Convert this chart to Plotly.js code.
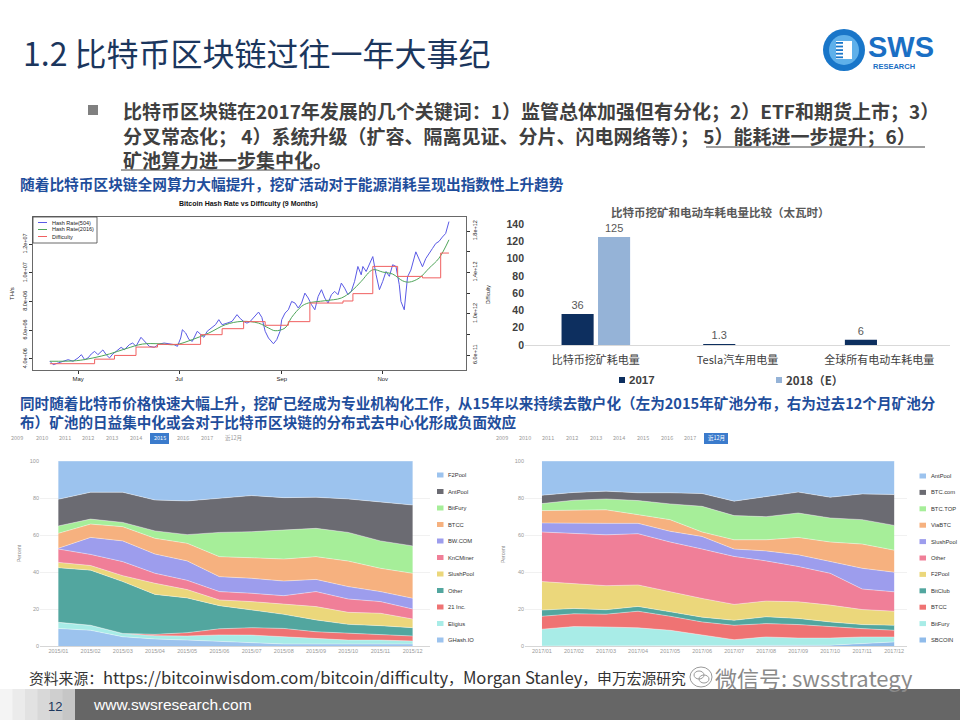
<!DOCTYPE html>
<html><head><meta charset="utf-8">
<script src="https://cdn.plot.ly/plotly-3.0.1.min.js"></script>
<style>html,body{margin:0;padding:0;background:#fff}#chart{width:960px;height:720px}</style>
</head><body><div id="chart"></div>
<script>
// ---------- Hash rate vs difficulty (TH/s, difficulty) ----------
const hashDates504 = ['2017-04-14','2017-04-16','2017-04-19','2017-04-22','2017-04-25','2017-04-28','2017-05-01','2017-05-03','2017-05-05','2017-05-07','2017-05-09','2017-05-11','2017-05-13','2017-05-16','2017-05-18','2017-05-20','2017-05-22','2017-05-24','2017-05-27','2017-05-29','2017-06-01','2017-06-03','2017-06-05','2017-06-08','2017-06-10','2017-06-13','2017-06-16','2017-06-19','2017-06-22','2017-06-25','2017-06-28','2017-06-30','2017-07-02','2017-07-03','2017-07-05','2017-07-07','2017-07-09','2017-07-12','2017-07-14','2017-07-16','2017-07-18','2017-07-21','2017-07-23','2017-07-25','2017-07-27','2017-07-30','2017-08-02','2017-08-05','2017-08-07','2017-08-09','2017-08-11','2017-08-13','2017-08-16','2017-08-18','2017-08-20','2017-08-22','2017-08-24','2017-08-27','2017-08-29','2017-08-31','2017-09-01','2017-09-03','2017-09-05','2017-09-07','2017-09-09','2017-09-11','2017-09-13','2017-09-15','2017-09-17','2017-09-19','2017-09-21','2017-09-23','2017-09-25','2017-09-27','2017-09-29','2017-10-01','2017-10-03','2017-10-05','2017-10-07','2017-10-09','2017-10-11','2017-10-13','2017-10-15','2017-10-17','2017-10-19','2017-10-20','2017-10-22','2017-10-24','2017-10-26','2017-10-28','2017-10-30','2017-11-01','2017-11-03','2017-11-05','2017-11-07','2017-11-09','2017-11-11','2017-11-12','2017-11-14','2017-11-16','2017-11-18','2017-11-21','2017-11-23','2017-11-25','2017-11-27','2017-11-29','2017-12-01','2017-12-03','2017-12-05','2017-12-07','2017-12-09','2017-12-11'];
const hashRate504 = [3.84e6,3.60e6,3.72e6,3.84e6,3.95e6,3.84e6,4.07e6,4.30e6,3.95e6,4.07e6,4.35e6,4.53e6,4.30e6,4.63e6,4.30e6,4.07e6,4.35e6,4.53e6,4.81e6,4.65e6,5.00e6,5.11e6,4.88e6,5.51e6,5.23e6,4.88e6,4.81e6,5.04e6,5.11e6,5.04e6,5.00e6,4.88e6,5.46e6,6.04e6,5.81e6,5.35e6,5.23e6,5.93e6,5.70e6,5.51e6,5.93e6,6.20e6,6.39e6,6.74e6,6.39e6,6.50e6,6.62e6,7.09e6,6.81e6,6.62e6,6.50e6,6.62e6,6.97e6,7.27e6,6.90e6,5.93e6,5.46e6,5.06e6,5.35e6,5.93e6,6.74e6,7.20e6,7.43e6,8.01e6,7.90e6,7.55e6,7.90e6,8.59e6,8.25e6,7.78e6,7.43e6,8.36e6,8.83e6,8.25e6,7.90e6,8.48e6,8.71e6,8.48e6,9.29e6,8.94e6,8.48e6,8.71e6,9.41e6,10.45e6,9.87e6,10.45e6,10.10e6,10.57e6,11.14e6,9.87e6,8.83e6,9.41e6,10.10e6,9.76e6,10.57e6,10.45e6,9.18e6,8.01e6,7.43e6,9.73e6,10.20e6,11.47e6,11.00e6,10.43e6,11.00e6,11.40e6,11.70e6,12.05e6,12.20e6,12.50e6,12.75e6,13.58e6];
const hashDates2016 = ['2017-04-14','2017-04-30','2017-05-10','2017-05-20','2017-05-30','2017-06-09','2017-06-19','2017-06-29','2017-07-09','2017-07-19','2017-07-29','2017-08-08','2017-08-18','2017-08-24','2017-08-28','2017-09-03','2017-09-07','2017-09-13','2017-09-17','2017-09-27','2017-10-07','2017-10-13','2017-10-19','2017-10-26','2017-11-01','2017-11-07','2017-11-13','2017-11-17','2017-11-23','2017-11-29','2017-12-05','2017-12-11'];
const hashRate2016 = [3.84e6,3.88e6,4.07e6,4.35e6,4.72e6,5.04e6,5.06e6,5.00e6,5.35e6,5.81e6,6.39e6,6.62e6,6.50e6,6.16e6,5.97e6,6.16e6,6.90e6,7.67e6,7.90e6,8.06e6,8.25e6,8.71e6,9.41e6,10.22e6,10.06e6,9.92e6,9.45e6,9.36e6,9.64e6,10.33e6,11.03e6,12.31e6];
const diffDates = ['2017-04-14','2017-05-11','2017-05-23','2017-06-05','2017-06-18','2017-07-14','2017-07-27','2017-08-09','2017-08-22','2017-09-05','2017-09-18','2017-10-08','2017-10-14','2017-10-26','2017-11-10','2017-11-25','2017-12-06','2017-12-11'];
const difficulty = [0.516e12,0.560e12,0.596e12,0.677e12,0.703e12,0.797e12,0.855e12,0.923e12,0.888e12,0.923e12,1.103e12,1.123e12,1.194e12,1.458e12,1.361e12,1.347e12,1.587e12,1.587e12];
const hashTickVals = [4e6,6e6,8e6,1e7,1.2e7];
const hashTickText = ['4.0e+06','6.0e+06','8.0e+06','1.0e+07','1.2e+07'];
const diffTickVals = [6e11,8e11,1e12,1.2e12,1.4e12,1.6e12,1.8e12];
const diffTickText = ['6.0e+11','','1.0e+12','','1.4e+12','','1.8e+12'];
const monthTickVals = ['2017-05-01','2017-07-01','2017-09-01','2017-11-01'];
const monthTickText = ['May','Jul','Sep','Nov'];

// ---------- Energy bar chart (TWh) ----------
const barCategories = ['比特币挖矿耗电量','Tesla汽车用电量','全球所有电动车耗电量'];
const energy2017 = [36, 1.3, 6];
const energy2018E = [125, null, null];

// ---------- Mining pool share 2015 (%) ----------
const months2015 = ['2015/01','2015/02','2015/03','2015/04','2015/05','2015/06','2015/07','2015/08','2015/09','2015/10','2015/11','2015/12'];
const ghash2015   = [9.5,8.5,5.0,3.8,3.2,2.5,1.4,1.1,1.1,1.1,1.1,1.1];
const eligius2015 = [3.3,2.7,1.8,1.8,2.2,3.5,4.5,3.9,3.0,2.1,2.1,1.6];
const inc21_2015  = [0,0,0,0.7,1.8,3.3,4.0,4.5,3.6,3.6,3.1,2.7];
const other2015   = [29.5,29.8,28.0,21.6,18.8,12.5,9.6,7.6,6.4,4.9,4.7,4.5];
const slush2015   = [2.9,2.5,3.2,6.0,4.5,3.1,4.5,5.4,7.2,6.5,6.7,4.7];
const kncminer2015= [7.2,6.0,7.6,5.4,5.0,4.5,4.5,4.7,8.1,7.2,6.3,5.4];
const bwcom2015   = [0.4,9.2,11.2,10.4,10.5,8.1,8.1,7.9,6.6,6.7,5.4,5.8];
const btcc2015    = [8.1,7.2,7.7,8.5,9.5,10.8,11.1,11.9,12.3,13.8,12.6,13.5];
const bitfury2015 = [4.0,2.7,2.3,4.0,4.7,13.1,14.1,15.5,15.3,15.5,14.8,14.8];
const antpool2015 = [14.4,14.5,16.3,16.7,18.2,18.4,19.5,17.7,16.8,18.1,21.2,22.1];
const f2pool2015  = [20.7,16.9,16.9,21.1,21.6,20.2,18.7,19.8,19.6,20.5,22.0,23.8];
const pools2015 = ['GHash.IO','Eligius','21 Inc.','Other','SlushPool','KnCMiner','BW.COM','BTCC','BitFury','AntPool','F2Pool'];

// ---------- Mining pool share last 12 months (%) ----------
const months2017 = ['2017/01','2017/02','2017/03','2017/04','2017/05','2017/06','2017/07','2017/08','2017/09','2017/10','2017/11','2017/12'];
const sbcoin17  = [0,0,0,0,0,0,0,0,0,0.4,1.3,2.2];
const bitfury17 = [9.1,10.5,10.3,9.8,8.5,5.8,3.4,4.9,4.3,3.9,3.6,2.7];
const btcc17    = [7.0,6.9,6.9,9.0,7.6,7.2,7.8,7.2,7.3,6.0,4.5,3.6];
const bitclub17 = [3.3,2.9,2.4,2.6,2.4,2.6,2.7,3.7,3.3,2.7,2.2,2.7];
const f2pool17  = [15.4,13.6,13.0,11.6,10.8,10.1,8.6,8.5,9.0,9.1,8.1,7.6];
const other17   = [26.8,27.1,27.5,27.7,26.9,26.7,25.9,21.7,19.1,17.2,11.1,10.5];
const slush17   = [4.9,5.3,6.2,5.6,5.8,6.8,4.0,5.4,6.3,6.4,11.2,10.6];
const viabtc17  = [6.7,6.9,7.3,4.7,6.3,2.4,5.0,6.0,9.4,10.5,13.1,11.9];
const btctop17  = [3.8,5.6,5.9,7.6,8.5,13.9,13.1,12.5,13.2,13.0,13.2,13.4];
const btccom17  = [4.5,4.2,4.2,4.2,6.0,6.9,7.8,10.7,11.3,11.2,13.9,16.7];
const antpool17 = [18.5,17.0,16.3,17.2,17.2,17.6,21.7,19.4,16.8,19.6,17.8,18.1];
const pools2017 = ['SBCOIN','BitFury','BTCC','BitClub','F2Pool','Other','SlushPool','ViaBTC','BTC.TOP','BTC.com','AntPool'];
const yearTabs = ['2009','2010','2011','2012','2013','2014','2015','2016','2017','近12月'];

// ---------- styling ----------
const CJK = '"Noto Sans CJK SC","Noto Sans",sans-serif';
const LAT = '"Liberation Sans",Arial,sans-serif';
const C = {lb:'#9cc3ee', dg:'#6b6b72', gr:'#a6ee99', or:'#f6b17f', pu:'#9d9ded', pk:'#f07f98', ye:'#ebd77b', te:'#52a69f', re:'#ef7373', cy:'#a8ece7', bl:'#8fbbea'};
const colors2015 = [C.lb, C.cy, C.re, C.te, C.ye, C.pk, C.pu, C.or, C.gr, C.dg, C.lb];
const colors2017 = [C.bl, C.cy, C.re, C.te, C.ye, C.pk, C.pu, C.or, C.gr, C.dg, C.lb];

const X = v => v/960, Y = v => 1 - v/720;
const ann = [], shp = [];
function txt(x, y, t, o) {
  o = o || {};
  ann.push({xref:'paper', yref:'paper', x:X(x), y:Y(y), text:t, showarrow:false,
    xanchor:o.xa||'left', yanchor:o.ya||'middle', textangle:o.angle||0, align:'left',
    font:{family:o.family||CJK, size:o.size||12, color:o.color||'#333'}});
}
function rect(x0,y0,x1,y1,fill,lc,lw){ shp.push({type:'rect',xref:'paper',yref:'paper',x0:X(x0),x1:X(x1),y0:Y(y1),y1:Y(y0),fillcolor:fill,line:{color:lc||fill,width:lw||0},layer:'above'}); }
function seg(x0,y0,x1,y1,col,w){ shp.push({type:'line',xref:'paper',yref:'paper',x0:X(x0),x1:X(x1),y0:Y(y0),y1:Y(y1),line:{color:col,width:w||1},layer:'above'}); }
function circ(x0,y0,x1,y1,fill,lc,lw){ shp.push({type:'circle',xref:'paper',yref:'paper',x0:X(x0),x1:X(x1),y0:Y(y1),y1:Y(y0),fillcolor:fill,line:{color:lc||fill,width:lw||0},layer:'above'}); }

// ---------- header ----------
txt(21, 52, '1.2 比特币区块链过往一年大事纪', {size:32, color:'#1b365d'});
// logo
circ(823,29,865,71,'#1976c9');
circ(829,35,859,65,'#5fb0ea');
rect(836,41,852,59,'#ffffff');
for (let i=0;i<5;i++) rect(836,42+i*3.6,843,43.8+i*3.6,'#1976c9');
txt(866, 47, '<b>SWS</b>', {size:29, color:'#1a6fc4', family:LAT});
txt(871, 66, '<b>RESEARCH</b>', {size:7.5, color:'#1a6fc4', family:LAT});

rect(88,105,98,115,'#808080');
txt(121, 135, '<b>比特币区块链在2017年发展的几个关键词：1）监管总体加强但有分化；2）ETF和期货上市；3）<br>分叉常态化； 4）系统升级（扩容、隔离见证、分片、闪电网络等）； 5）能耗进一步提升；6）<br>矿池算力进一步集中化。</b>', {size:19, color:'#404040'});
seg(706,147,925,147,'#404040',1);
seg(121,170,312,170,'#404040',1);
txt(18, 183, '<b>随着比特币区块链全网算力大幅提升，挖矿活动对于能源消耗呈现出指数性上升趋势</b>', {size:14.7, color:'#1f4e9c'});

// ---------- hash chart text ----------
txt(248, 204, '<b>Bitcoin Hash Rate vs Difficulty (9 Months)</b>', {xa:'center', size:7, family:LAT, color:'#111'});
txt(12, 294, 'TH/s', {xa:'center', size:6, family:LAT, angle:-90, color:'#222'});
txt(488, 295, 'Difficulty', {xa:'center', size:5, family:LAT, angle:-90, color:'#222'});
rect(33,217,97,243,'rgba(255,255,255,0)','#444',0.8);
const hashLegend = [['Hash Rate(504)','#5a5ae6'],['Hash Rate(2016)','#4fa55a'],['Difficulty','#f06060']];
hashLegend.forEach((d,i)=>{ seg(38,222.5+i*7,47,222.5+i*7,d[1],1); txt(50,222.5+i*7,d[0],{size:5.5,family:LAT,color:'#222'}); });

// ---------- bar chart text ----------
txt(720, 212, '<b>比特币挖矿和电动车耗电量比较（太瓦时）</b>', {xa:'center', size:11.5, color:'#595959'});
rect(619,377,625,383,'#0d2f5f');
txt(627, 380, '<b>2017</b>', {size:11.5, color:'#404040', family:LAT});
rect(776,377,782,383,'#95b3d7');
txt(784, 380, '<b>2018（E）</b>', {size:11.5, color:'#404040'});

// ---------- lower text ----------
txt(18, 412, '<b>同时随着比特币价格快速大幅上升，挖矿已经成为专业机构化工作，从15年以来持续去散户化（左为2015年矿池分布，右为过去12个月矿池分<br>布）矿池的日益集中化或会对于比特币区块链的分布式去中心化形成负面效应</b>', {size:14.6, color:'#1f4e9c'});

// year tabs
const tabXL = [17,42,65,88,112,136,160,183,207,233];
const tabXR = [502,525,548,572,596,619,643,667,690,716];
rect(150,433,169,444,'#3b7bcc');
rect(704,433,728,444,'#3b7bcc');
yearTabs.forEach((t,i)=>{
  txt(tabXL[i],438,t,{xa:'center',size:5.5,color:i===6?'#ffffff':'#9a9a9a'});
  txt(tabXR[i],438,t,{xa:'center',size:5.5,color:i===9?'#ffffff':'#9a9a9a'});
});
txt(19,553,'Percent',{xa:'center',size:5,angle:-90,color:'#888',family:LAT});
txt(503,554,'Percent',{xa:'center',size:5,angle:-90,color:'#888',family:LAT});

// stacked legends
pools2015.slice().reverse().forEach((n,i)=>{ const y=475+i*16.5; rect(437,y-2.5,443.5,y+2.5,colors2015[10-i]); txt(446,y,n,{size:5.8,family:LAT,color:'#333'}); });
pools2017.slice().reverse().forEach((n,i)=>{ const y=476+i*16.4; rect(919.5,y-2.5,926,y+2.5,colors2017[10-i]); txt(928.5,y,n,{size:5.8,family:LAT,color:'#333'}); });

// ---------- footer ----------
const L = s => '<span style="font-size:16.6px">' + s + '</span>';
txt(27, 677, '资料来源：' + L('https://bitcoinwisdom.com/bitcoin/difficulty') + '，' + L('Morgan Stanley') + '，申万宏源研究', {size:14.8, color:'#333'});
circ(690,667,712,687,'rgba(255,255,255,0.85)','#9a9a9a',1);
circ(694,671,704,679,'rgba(0,0,0,0)','#9a9a9a',1);
circ(699,675,709,683,'rgba(0,0,0,0)','#9a9a9a',1);
txt(713, 677, '微信号: swsstrategy', {size:22, color:'#8a8a8a'});
const grad = ['#f4f4f4','#ebebeb','#e2e2e2','#d8d8d8','#cfcfcf','#c6c6c6'];
grad.forEach((g,i)=>rect(i*12.5,689,(i+1)*12.5+0.5,720,g));
rect(75,689,960,720,'#666666');
txt(55, 706, '12', {xa:'center', size:13, color:'#1b365d', family:LAT});
txt(91, 704, 'www.swsresearch.com', {size:15.5, color:'#ffffff', family:LAT});

// ---------- traces ----------
const traces = [
  {type:'scatter', mode:'lines', x:hashDates504, y:hashRate504, xaxis:'x', yaxis:'y', line:{color:'#5a5ae6', width:1}, name:'Hash Rate(504)'},
  {type:'scatter', mode:'lines', x:hashDates2016, y:hashRate2016, xaxis:'x', yaxis:'y', line:{color:'#4fa55a', width:1, shape:'spline'}, name:'Hash Rate(2016)'},
  {type:'scatter', mode:'lines', x:diffDates, y:difficulty, xaxis:'x', yaxis:'y2', line:{color:'#f06060', width:1, shape:'hv'}, name:'Difficulty'},
  {type:'bar', x:barCategories, y:energy2017, xaxis:'x3', yaxis:'y3', name:'2017', marker:{color:'#0d2f5f'}, text:energy2017.map(String), textposition:'outside', textfont:{size:11, color:'#595959', family:LAT}, cliponaxis:false},
  {type:'bar', x:barCategories, y:energy2018E, xaxis:'x3', yaxis:'y3', name:'2018（E）', marker:{color:'#95b3d7'}, text:energy2018E.map(v=>v==null?'':String(v)), textposition:'outside', textfont:{size:11, color:'#595959', family:LAT}, cliponaxis:false}
];
const series2015 = [ghash2015,eligius2015,inc21_2015,other2015,slush2015,kncminer2015,bwcom2015,btcc2015,bitfury2015,antpool2015,f2pool2015];
series2015.forEach((s,i)=>traces.push({type:'scatter', mode:'lines', x:months2015, y:s, xaxis:'x4', yaxis:'y4', stackgroup:'L', name:pools2015[i], line:{color:'rgba(255,255,255,0.55)', width:0.7}, fillcolor:colors2015[i]}));
const series2017 = [sbcoin17,bitfury17,btcc17,bitclub17,f2pool17,other17,slush17,viabtc17,btctop17,btccom17,antpool17];
series2017.forEach((s,i)=>traces.push({type:'scatter', mode:'lines', x:months2017, y:s, xaxis:'x5', yaxis:'y5', stackgroup:'R', name:pools2017[i], line:{color:'rgba(255,255,255,0.55)', width:0.7}, fillcolor:colors2017[i]}));

const small = {family:LAT, size:5.5, color:'#999'};
const layout = {
  width:960, height:720, margin:{l:0,r:0,t:0,b:0}, paper_bgcolor:'#ffffff', plot_bgcolor:'rgba(0,0,0,0)',
  showlegend:false, font:{family:CJK},
  xaxis:{domain:[X(33),X(466)], anchor:'y', type:'date', range:['2017-04-03 19:00','2017-12-21 07:00'], tickvals:monthTickVals, ticktext:monthTickText, ticks:'outside', ticklen:3, tickcolor:'#333', tickfont:{family:LAT,size:6,color:'#222'}, showline:true, mirror:true, linecolor:'#444', linewidth:0.8, showgrid:false, zeroline:false},
  yaxis:{domain:[Y(370),Y(217)], anchor:'x', range:[3.23e6,1.39e7], tickvals:hashTickVals, ticktext:hashTickText, tickangle:-90, ticks:'outside', ticklen:3, tickcolor:'#333', tickfont:{family:LAT,size:5.5,color:'#222'}, showline:true, mirror:true, linecolor:'#444', linewidth:0.8, showgrid:false, zeroline:false},
  yaxis2:{overlaying:'y', side:'right', anchor:'x', range:[4.55e11,1.936e12], tickvals:diffTickVals, ticktext:diffTickText, tickangle:-90, ticks:'outside', ticklen:3, tickcolor:'#333', tickfont:{family:LAT,size:5.5,color:'#222'}, showgrid:false, zeroline:false},
  xaxis3:{domain:[X(525),X(950)], anchor:'y3', type:'category', tickfont:{family:CJK,size:11,color:'#404040'}, showline:true, linecolor:'#d9d9d9', ticks:'outside', ticklen:5, tickcolor:'rgba(0,0,0,0)', showgrid:false, zeroline:false},
  yaxis3:{domain:[Y(345),Y(224)], anchor:'x3', range:[0,140], dtick:20, tickfont:{family:LAT,size:10.5,color:'#404040',weight:'bold'}, showgrid:false, zeroline:false, showline:false},
  bargap:0.485, bargroupgap:0.12,
  xaxis4:{domain:[X(40),X(430)], anchor:'y4', type:'category', range:[-0.57,11.54], tickfont:small, showline:true, linecolor:'#cccccc', linewidth:0.8, showgrid:false, zeroline:false},
  yaxis4:{domain:[Y(646),Y(461)], anchor:'x4', range:[0,100], tickvals:[0,20,40,60,80,100], ticksuffix:'%', tickfont:small, gridcolor:'#eeeeee', gridwidth:0.8, showline:false, zeroline:false},
  xaxis5:{domain:[X(525),X(907)], anchor:'y5', type:'category', range:[-0.53,11.4], tickfont:small, showline:true, linecolor:'#cccccc', linewidth:0.8, showgrid:false, zeroline:false},
  yaxis5:{domain:[Y(646),Y(461)], anchor:'x5', range:[0,100], tickvals:[0,20,40,60,80,100], ticksuffix:'%', tickfont:small, gridcolor:'#eeeeee', gridwidth:0.8, showline:false, zeroline:false},
  annotations:ann, shapes:shp
};
Plotly.newPlot('chart', traces, layout, {staticPlot:true, displayModeBar:false});
</script></body></html>
